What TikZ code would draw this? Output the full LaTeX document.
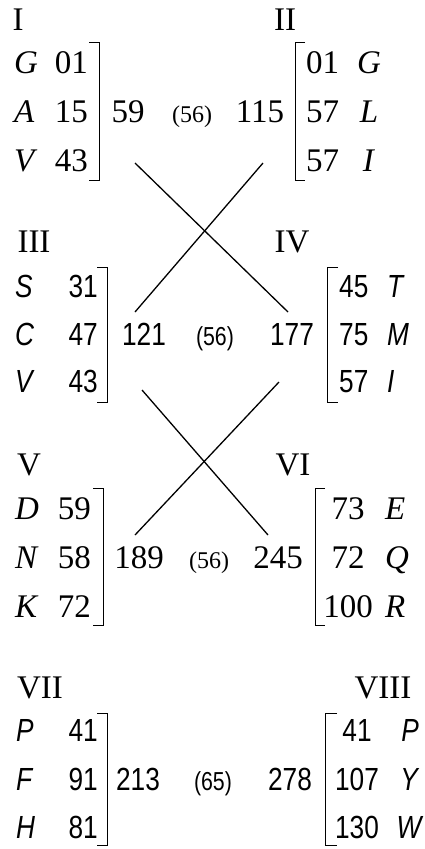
\documentclass[tikz,border=0pt]{standalone}
\usepackage{fontspec}
\setmainfont{Liberation Serif}
\newfontfamily\arialnarrow[FakeStretch=0.82]{Liberation Sans}
\usepackage{tikz}

\tikzset{
  rmtxt/.style={font=\fontsize{33}{33}\selectfont,inner sep=0pt,anchor=base},
  sftxt/.style={font=\arialnarrow\fontsize{32}{32}\selectfont,inner sep=0pt,anchor=base},
  rmsmall/.style={font=\fontsize{24}{24}\selectfont,inner sep=0pt,anchor=base},
  sfsmall/.style={font=\arialnarrow\fontsize{26}{26}\selectfont,inner sep=0pt,anchor=base},
  brk/.style={line width=1pt},
  cross/.style={line width=1.3pt}
}

\begin{document}
\begin{tikzpicture}[x=1pt,y=-1pt]
  \useasboundingbox (0,0) rectangle (425,849);

  % I and II
  \node[rmtxt] (labI) at (18,30) {I};
  \node[rmtxt] (labII) at (285,30) {II};
  \foreach \y/\t/\n [count=\i] in {73/G/01,122/A/15,171/V/43} {
    \node[rmtxt,anchor=base west] (tI\i) at (14,\y) {\textit{\t}};
    \node[rmtxt,anchor=base east] (nI\i) at (88,\y) {\n};
  }
  \foreach \y/\n/\t [count=\i] in {73/01/G,122/57/L,171/57/I} {
    \node[rmtxt,anchor=base west] (nII\i) at (306,\y) {\n};
    \node[rmtxt] (tII\i) at (369,\y) {\textit{\t}};
  }
  \draw[brk] (89,42) -- (99,42) -- (99,180) -- (89,180);
  \draw[brk] (305,42) -- (295,42) -- (295,180) -- (305,180);
  \node[rmtxt] (sumI) at (128,122) {59};
  \node[rmsmall] (dI) at (192,122) {(56)};
  \node[rmtxt] (sumII) at (260,122) {115};

  % III and IV
  \node[rmtxt] (labIII) at (34,252) {III};
  \node[rmtxt] (labIV) at (292,252) {IV};
  \foreach \y/\t/\n [count=\i] in {297/S/31,345/C/47,392/V/43} {
    \node[sftxt,anchor=base west] (tIII\i) at (15,\y) {\textit{\t}};
    \node[sftxt,anchor=base east] (nIII\i) at (98,\y) {\n};
  }
  \foreach \y/\n/\t [count=\i] in {297/45/T,345/75/M,392/57/I} {
    \node[sftxt,anchor=base west] (nIV\i) at (339,\y) {\n};
    \node[sftxt,anchor=base west] (tIV\i) at (387,\y) {\textit{\t}};
  }
  \draw[brk] (97,267) -- (107,267) -- (107,402) -- (97,402);
  \draw[brk] (338,267) -- (327,267) -- (327,402) -- (338,402);
  \node[sftxt] (sumIII) at (144,345) {121};
  \node[sfsmall] (dIII) at (215,345) {(56)};
  \node[sftxt] (sumIV) at (292,345) {177};

  % V and VI
  \node[rmtxt] (labV) at (29,475) {V};
  \node[rmtxt] (labVI) at (293,475) {VI};
  \foreach \y/\t/\n [count=\i] in {519/D/59,568/N/58,617/K/72} {
    \node[rmtxt,anchor=base west] (tV\i) at (15,\y) {\textit{\t}};
    \node[rmtxt,anchor=base east] (nV\i) at (91,\y) {\n};
  }
  \foreach \y/\n/\t [count=\i] in {519/73/E,568/72/Q,617/100/R} {
    \node[rmtxt] (nVI\i) at (348,\y) {\n};
    \node[rmtxt,anchor=base west] (tVI\i) at (385,\y) {\textit{\t}};
  }
  \draw[brk] (93,488) -- (103,488) -- (103,625) -- (93,625);
  \draw[brk] (325,488) -- (315,488) -- (315,625) -- (325,625);
  \node[rmtxt] (sumV) at (139,568) {189};
  \node[rmsmall] (dV) at (209,568) {(56)};
  \node[rmtxt] (sumVI) at (278,568) {245};

  % VII and VIII
  \node[rmtxt] (labVII) at (40,698) {VII};
  \node[rmtxt] (labVIII) at (383,698) {VIII};
  \foreach \y/\t/\n [count=\i] in {741/P/41,790/F/91,838/H/81} {
    \node[sftxt,anchor=base west] (tVII\i) at (16,\y) {\textit{\t}};
    \node[sftxt,anchor=base east] (nVII\i) at (98,\y) {\n};
  }
  \foreach \y/\n/\t [count=\i] in {741/41/P,790/107/Y,838/130/W} {
    \node[sftxt] (nVIII\i) at (357,\y) {\n};
    \node[sftxt] (tVIII\i) at (410,\y) {\textit{\t}};
  }
  \draw[brk] (97,713) -- (107,713) -- (107,845) -- (97,845);
  \draw[brk] (337,713) -- (325,713) -- (325,845) -- (337,845);
  \node[sftxt] (sumVII) at (138,790) {213};
  \node[sfsmall] (dVII) at (213,790) {(65)};
  \node[sftxt] (sumVIII) at (290,790) {278};

  % crossings
  \coordinate (fromI) at (135,163);
  \coordinate (toIV) at (288,312);
  \coordinate (fromII) at (263,163);
  \coordinate (toIII) at (135,312);
  \coordinate (fromIII) at (142,390);
  \coordinate (toVI) at (268,535);
  \coordinate (fromIV) at (279,382);
  \coordinate (toV) at (135,535);
  \draw[cross] (fromI) -- (toIV);
  \draw[cross] (fromII) -- (toIII);
  \draw[cross] (fromIII) -- (toVI);
  \draw[cross] (fromIV) -- (toV);
\end{tikzpicture}
\end{document}
